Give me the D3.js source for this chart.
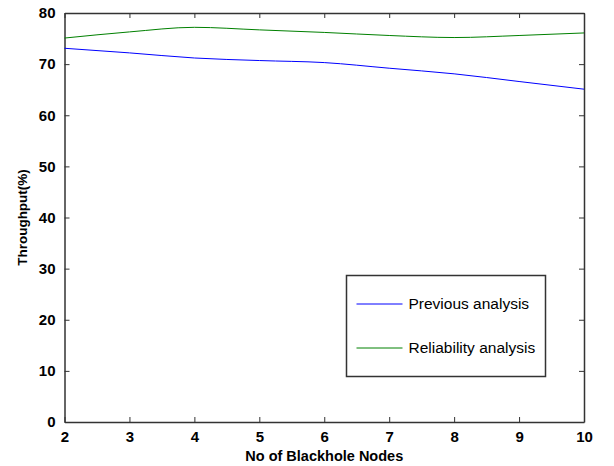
<!DOCTYPE html>
<html>
<head>
<meta charset="utf-8">
<script src="https://cdn.jsdelivr.net/npm/d3@7"></script>
<style>
  body { margin: 0; background: #fff; }
  svg { display: block; }
  .tick text { font-family: "Liberation Sans Narrow", "Arial Narrow", "Liberation Sans", sans-serif; font-weight: bold; font-size: 15px; fill: #000; }
  .axis path, .axis line { stroke: #333; }
</style>
</head>
<body>
<svg></svg>
<script>
;(() => {

    // node counts on the x axis
    const nodeCounts = [2, 3, 4, 5, 6, 7, 8, 9, 10];
    const previousValues = [73.1, 72.2, 71.2, 70.7, 70.3, 69.2, 68.1, 66.6, 65.1];
    const reliabilityValues = [75.1, 76.3, 77.2, 76.7, 76.2, 75.6, 75.2, 75.6, 76.1];
    const yTicks = [0, 10, 20, 30, 40, 50, 60, 70, 80];
    const seriesNames = ['Previous analysis', 'Reliability analysis'];
    const seriesColors = ['#0000ff', '#008000'];

    const renderWidth = 614;
    const renderHeight = 466;
    const plot = { left: 64.5, right: 584, top: 13, bottom: 422 };

    const svg = d3.select('svg')
        .attr('width', renderWidth)
        .attr('height', renderHeight);

    const x = d3.scaleLinear().domain([2, 10]).range([plot.left, plot.right]);
    const y = d3.scaleLinear().domain([0, 80]).range([plot.bottom, plot.top]);

    // bottom and left axes with labels, ticks pointing inwards
    svg.append('g')
        .attr('class', 'axis')
        .attr('transform', `translate(0,${plot.bottom})`)
        .call(d3.axisBottom(x).tickValues(nodeCounts).tickSizeInner(-5).tickSizeOuter(0).tickPadding(7))
        .call(g => g.selectAll('text').attr('dy', '0.85em'));

    svg.append('g')
        .attr('class', 'axis')
        .attr('transform', `translate(${plot.left},0)`)
        .call(d3.axisLeft(y).tickValues(yTicks).tickSizeInner(-5).tickSizeOuter(0).tickPadding(9));

    // mirrored top and right axes, no labels
    svg.append('g')
        .attr('class', 'axis')
        .attr('transform', `translate(0,${plot.top})`)
        .call(d3.axisTop(x).tickValues(nodeCounts).tickSizeInner(-5).tickSizeOuter(0).tickFormat(''));

    svg.append('g')
        .attr('class', 'axis')
        .attr('transform', `translate(${plot.right},0)`)
        .call(d3.axisRight(y).tickValues(yTicks).tickSizeInner(-5).tickSizeOuter(0).tickFormat(''));

    svg.selectAll('.axis path').attr('stroke-width', 1.5);

    const line = d3.line()
        .x((d, i) => x(nodeCounts[i]))
        .y(d => y(d))
        .curve(d3.curveMonotoneX);

    [previousValues, reliabilityValues].forEach((values, i) => {
        svg.append('path')
            .datum(values)
            .attr('fill', 'none')
            .attr('stroke', seriesColors[i])
            .attr('stroke-width', 1)
            .attr('d', line);
    });

    // axis titles
    svg.append('text')
        .attr('x', (plot.left + plot.right) / 2)
        .attr('y', 461)
        .attr('text-anchor', 'middle')
        .style('font-family', '"Liberation Sans Narrow", "Arial Narrow", sans-serif')
        .style('font-weight', 'bold')
        .style('font-size', '14.5px')
        .text('No of Blackhole Nodes');

    svg.append('text')
        .attr('transform', `translate(27,${(plot.top + plot.bottom) / 2}) rotate(-90)`)
        .attr('text-anchor', 'middle')
        .style('font-family', '"Liberation Sans Narrow", "Arial Narrow", sans-serif')
        .style('font-weight', 'bold')
        .style('font-size', '13.5px')
        .text('Throughput(%)');

    // legend
    const legend = svg.append('g').attr('transform', 'translate(346.5,275.5)');
    legend.append('rect')
        .attr('width', 199)
        .attr('height', 101)
        .attr('fill', '#fff')
        .attr('stroke', '#333')
        .attr('stroke-width', 1.5);

    seriesNames.forEach((name, i) => {
        const ly = 28.5 + i * 44;
        legend.append('line')
            .attr('x1', 10).attr('x2', 56)
            .attr('y1', ly).attr('y2', ly)
            .attr('stroke', seriesColors[i]);
        legend.append('text')
            .attr('x', 62)
            .attr('y', ly)
            .attr('dy', '0.35em')
            .style('font-family', '"Liberation Sans", Arial, sans-serif')
            .style('font-size', '15.5px')
            .text(name);
    });

})();
</script>
</body>
</html>
